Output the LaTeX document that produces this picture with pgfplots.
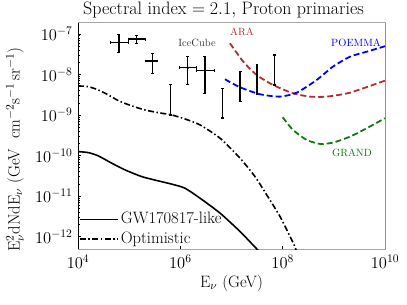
\RequirePackage{fix-cm}
\documentclass[border=0pt]{standalone}
\usepackage{fontspec}
\usepackage{pgfplots}
\pgfplotsset{compat=1.18}
\definecolor{arac}{HTML}{B03030}
\definecolor{grandc}{HTML}{107A10}
\newcommand{\lbl}{\fontsize{16.5bp}{19bp}\selectfont}
\begin{document}
\lbl
\begin{tikzpicture}
\path[use as bounding box] (-78bp,-56bp) rectangle (329bp,249bp);
\begin{axis}[
  at={(0,0)}, anchor=south west,
  scale only axis, width=307bp, height=226.3bp,
  xmode=log, ymode=log,
  xmin=1e4, xmax=1e10, ymin=5e-13, ymax=1.9e-7,
  xtick={1e4,1e6,1e8,1e10}, minor xtick={},
  ytick={1e-12,1e-11,1e-10,1e-9,1e-8,1e-7},
  tick align=inside, major tick length=3bp, minor tick length=1.5bp,
  tick style={black, line width=0.8pt},
  xtick pos=bottom, ytick pos=left,
  axis line style={gray!70, line width=1pt},
  tick label style={font=\lbl},
  label style={font=\lbl},
  title={Spectral index $=2.1,$ Proton primaries},
  title style={at={(axis description cs:0.474,1.012)}, anchor=base, font=\fontsize{18bp}{21bp}\selectfont},
  xlabel={E$_\nu$ (GeV)},
  xlabel style={at={(axis description cs:0.5,-0.15)}, anchor=center},
  ylabel={E$^2_\nu$dNdE$_\nu$ (GeV\ \ cm$^{-2}$s$^{-1}$\,sr$^{-1}$)},
  ylabel style={at={(axis description cs:-0.205,0.44)}, anchor=center},
  legend style={at={(axis description cs:0.0,0.0)}, anchor=south west, draw=none, fill=none,
    font=\lbl, row sep=1.5bp, inner sep=1bp},
  legend cell align=left,
  legend image code/.code={\draw[#1] (0bp,0bp) -- (26bp,0bp); \path (0bp,0bp) -- (38bp,0bp);},
  clip=true,
]
% GW170817-like
\addplot[black, line width=1.6pt, smooth, tension=0.4] coordinates {
(1e4,1.26e-10) (1.59e4,1.19e-10) (2.49e4,9.9e-11) (4.56e4,6.53e-11) (8.28e4,4.47e-11)
(1.76e5,3.05e-11) (3.71e5,2.39e-11) (6.78e5,1.99e-11) (1.23e6,1.58e-11) (2.42e6,8.97e-12)
(5.96e6,3.84e-12) (1.47e7,1.35e-12) (2.88e7,5.57e-13) (3.4e7,4.5e-13)};
\addlegendentry{GW170817-like}
% Optimistic
\addplot[black, line width=1.6pt, smooth, tension=0.4, dash pattern=on 6bp off 2.5bp on 1.5bp off 2.5bp] coordinates {
(1e4,5.24e-9) (1.59e4,5.04e-9) (2.49e4,4.18e-9) (3.91e4,3.15e-9) (6.14e4,2.28e-9)
(1.12e5,1.69e-9) (2.04e5,1.34e-9) (3.71e5,1.15e-9) (6.78e5,1.01e-9) (1.23e6,8.05e-10)
(2.42e6,5.74e-10) (5.96e6,2.70e-10) (1.47e7,8.67e-11) (2.88e7,3.05e-11) (4.88e7,1.08e-11)
(8.87e7,3.16e-12) (1.61e8,7.0e-13) (1.85e8,4.5e-13)};
\addlegendentry{Optimistic}
% ARA
\addplot[arac, line width=1.8pt, smooth, tension=0.4, dash pattern=on 6bp off 3bp, forget plot] coordinates {
(9.33e6,5.90e-8) (1.70e7,2.08e-8) (3.10e7,9.77e-9) (6.47e7,5.55e-9) (1.59e8,3.46e-9)
(3.42e8,2.86e-9) (7.24e8,2.86e-9) (2.07e9,3.58e-9) (1e10,7.08e-9)};
% POEMMA
\addplot[blue, line width=1.8pt, smooth, tension=0.4, dash pattern=on 6bp off 3bp, forget plot] coordinates {
(7.46e6,7.66e-9) (1.47e7,4.86e-9) (3.61e7,3.27e-9) (8.87e7,2.86e-9) (1.88e8,3.58e-9)
(4.62e8,7.36e-9) (9.62e8,1.57e-8) (2.07e9,2.76e-8) (4.39e9,3.66e-8) (1e10,5.0e-8)};
% GRAND
\addplot[grandc, line width=1.8pt, smooth, tension=0.4, dash pattern=on 6bp off 3bp, forget plot] coordinates {
(1.0e8,8.87e-10) (1.59e8,4.32e-10) (2.94e8,2.45e-10) (5.36e8,1.95e-10) (9.62e8,2.10e-10)
(2.07e9,2.95e-10) (4.39e9,4.75e-10) (1e10,8.39e-10)};
% IceCube data points
\addplot[black, only marks, mark=*, mark size=1.2pt, forget plot,
  error bars/.cd, x dir=both, x explicit, y dir=both, y explicit,
  error bar style={line width=1.4pt}, error mark options={rotate=90, mark size=1.5pt, line width=1pt}]
coordinates {
(6.32e4,6.25e-8) += (3.30e4,3.59e-8) -= (1.96e4,2.79e-8)
(1.40e5,7.53e-8) += (7.0e4,1.92e-8) -= (4.38e4,1.63e-8)
(2.83e5,2.16e-8) += (7.8e4,1.19e-8) -= (7.3e4,1.08e-8)
(1.39e6,1.48e-8) += (7.0e5,1.28e-8) -= (4.48e5,9.25e-9)
(3.03e6,1.25e-8) += (1.72e6,1.51e-8) -= (9.4e5,9.04e-9)
};
% upper limits
\addplot[black, line width=1.4pt, mark=-, mark size=1.5pt, forget plot] coordinates {(6.49e5,1.01e-9) (6.49e5,5.77e-9)};
\addplot[black, line width=1.4pt, mark=-, mark size=1.5pt, forget plot] coordinates {(6.73e6,8.4e-10) (6.73e6,4.6e-9)};
\addplot[black, line width=1.4pt, mark=-, mark size=1.5pt, forget plot] coordinates {(1.47e7,2.15e-9) (1.47e7,1.18e-8)};
\addplot[black, line width=1.4pt, mark=-, mark size=1.5pt, forget plot] coordinates {(3.15e7,3.27e-9) (3.15e7,1.8e-8)};
\addplot[black, line width=1.4pt, mark=-, mark size=1.5pt, forget plot] coordinates {(6.86e7,5.55e-9) (6.86e7,3.04e-8)};
% labels
\node[font=\fontsize{10.5bp}{12bp}\selectfont, text=black!80] at (axis cs:2.12e6,6.0e-8) {IceCube};
\node[font=\fontsize{10.5bp}{12bp}\selectfont, text=arac] at (axis cs:1.6e7,1.12e-7) {ARA};
\node[font=\fontsize{10.5bp}{12bp}\selectfont, text=blue] at (axis cs:2.71e9,6.0e-8) {POEMMA};
\node[font=\fontsize{10.5bp}{12bp}\selectfont, text=grandc] at (axis cs:2.26e9,1.17e-10) {GRAND};
% black side spines
\draw[black, line width=1pt] (rel axis cs:0,0) -- (rel axis cs:0,1);
\draw[black, line width=1pt] (rel axis cs:1,0) -- (rel axis cs:1,1);
\end{axis}
\end{tikzpicture}
\end{document}
